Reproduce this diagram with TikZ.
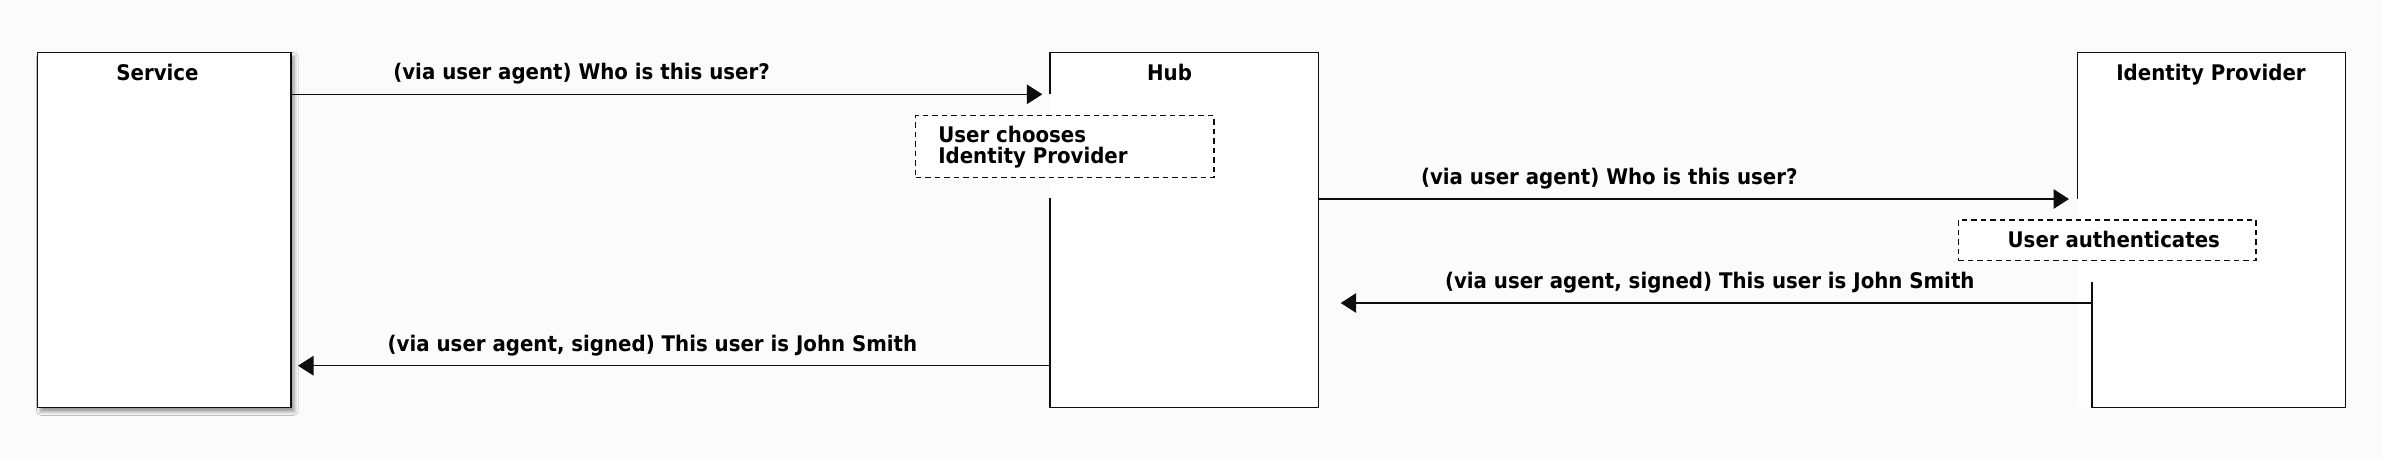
\documentclass[tikz,border=0pt]{standalone}
\usepackage{fontspec}
\newfontfamily\lf{DejaVu Sans}[FakeStretch=0.92]
\usetikzlibrary{arrows.meta,shadows.blur}
\begin{document}
\begin{tikzpicture}[x=1pt,y=-1pt,
  every node/.style={inner sep=0pt, outer sep=0pt, font=\lf\bfseries\fontsize{21.5}{20.6}\selectfont},
  ln/.style={line width=1.5pt, draw=black!95},
  msg/.style={ln, -{Triangle[length=15.5pt,width=19.5pt]}},
  note/.style={draw=black!95, line width=1.3pt, dash pattern=on 5.5pt off 4pt, fill=white},
  lbl/.style={anchor=base west},
  ttl/.style={anchor=base},
]
\fill[white!98.5!black] (0,0) rectangle (2382,459);
\useasboundingbox (0,0) rectangle (2382,459);

\coordinate (y1) at (0,94.3);
\coordinate (y2) at (0,199);
\coordinate (y3) at (0,303);
\coordinate (y4) at (0,365.7);
\coordinate (hubgap) at (0,198.3);
\coordinate (idplow) at (2092,282.3);

% Service
\node[ln, draw, fill=white, minimum width=253.3pt, minimum height=354.6pt,
  blur shadow={shadow xshift=3pt, shadow yshift=-4pt, shadow blur radius=4pt, shadow opacity=45}]
  (svc) at (164.35,230) {};
\node[ttl] (svct) at (157.5,80.7) {Service};

% Hub
\node[fill=white, minimum width=268.3pt, minimum height=354.6pt] (hub) at (1184.15,230) {};
\draw[ln] (hub.west |- y1) -- (hub.north west) -- (hub.north east) -- (hub.south east)
  -- (hub.south west) -- (hub.west |- hubgap);
\node[ttl] (hubt) at (1169.5,80.7) {Hub};

% Identity Provider
\node[fill=white, minimum width=268.4pt, minimum height=354.6pt] (idp) at (2211.5,230) {};
\draw[ln] (idp.west |- y2) -- (idp.north west) -- (idp.north east) -- (idp.south east)
  -- (idplow |- idp.south) -- (idplow);
\node[ttl] (idpt) at (2211,80.7) {Identity Provider};

% notes
\node[note, minimum width=298.3pt, minimum height=62pt] (n1) at (1064.85,146.7) {};
\node[lbl] (n1a) at (938.3,142.7) {User chooses};
\node[lbl] (n1b) at (938.3,163.3) {Identity Provider};
\node[note, minimum width=297.7pt, minimum height=40.7pt] (n2) at (2107.15,240.35) {};
\node[ttl] (n2t) at (2113.8,247.3) {User authenticates};

% messages
\draw[msg, shorten >=7.7pt] (svc.east |- y1) -- (hub.west |- y1);
\node[lbl] (l1) at (393.3,79.3) {(via user agent) Who is this user?};
\draw[msg, shorten >=8.3pt] (hub.east |- y2) -- (idp.west |- y2);
\node[lbl] (l2) at (1421,184.3) {(via user agent) Who is this user?};
\draw[msg, shorten >=22.4pt] (idplow |- y3) -- (hub.east |- y3);
\node[lbl] (l3) at (1445,288.3) {(via user agent, signed) This user is John Smith};
\draw[msg, shorten >=7pt] (hub.west |- y4) -- (svc.east |- y4);
\node[lbl] (l4) at (387.7,351.2) {(via user agent, signed) This user is John Smith};
\end{tikzpicture}
\end{document}
